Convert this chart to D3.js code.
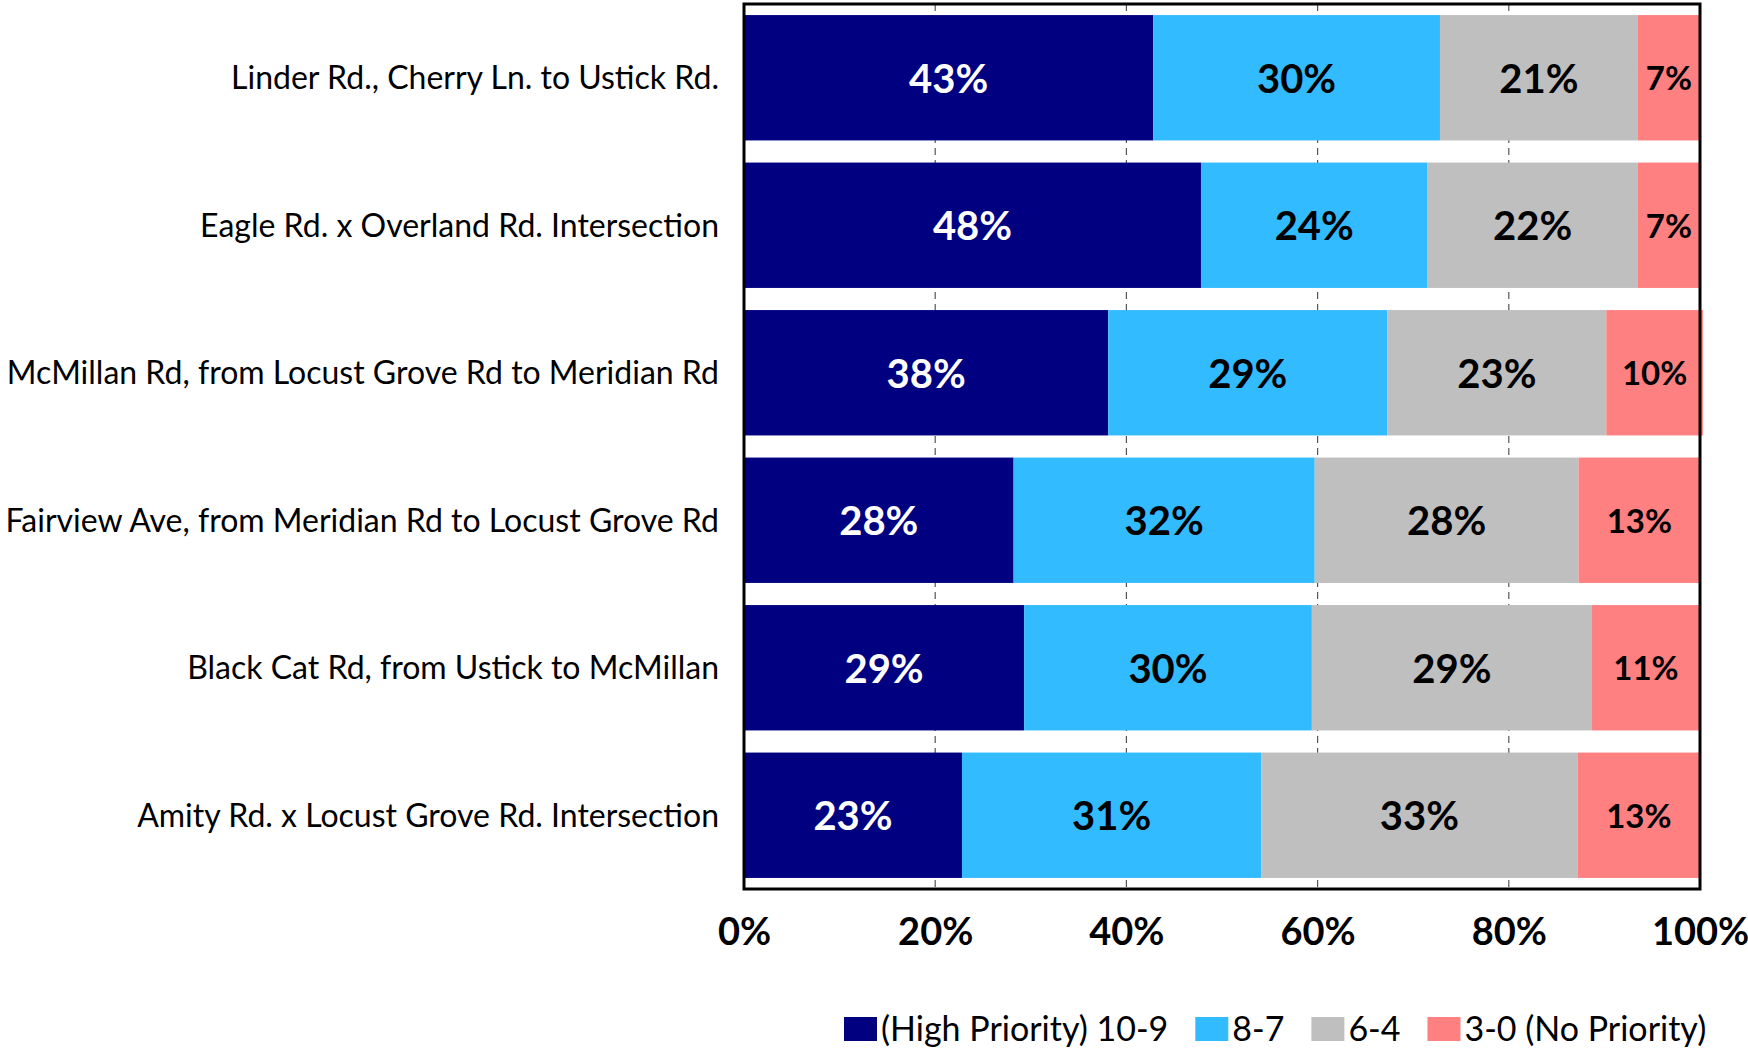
<!DOCTYPE html>
<html>
<head>
<meta charset="utf-8">
<script src="https://cdn.jsdelivr.net/npm/d3@7"></script>
<style>
  body { margin: 0; background: #fff; }
  svg { display: block; }
</style>
</head>
<body>
<div id="chart"></div>
<script>
// road segments, top to bottom
var roads = [
  "Linder Rd., Cherry Ln. to Ustick Rd.",
  "Eagle Rd. x Overland Rd. Intersection",
  "McMillan Rd, from Locust Grove Rd to Meridian Rd",
  "Fairview Ave, from Meridian Rd to Locust Grove Rd",
  "Black Cat Rd, from Ustick to McMillan",
  "Amity Rd. x Locust Grove Rd. Intersection"
];

// share of responses (%) per priority group
var high = [42.8, 47.8, 38.1, 28.2, 29.3, 22.8];
var mid  = [30.0, 23.7, 29.2, 31.5, 30.1, 31.3];
var low  = [20.7, 22.0, 22.9, 27.6, 29.3, 33.1];
var none = [6.5, 6.5, 10.1, 12.7, 11.3, 12.8];

var seriesKeys = ["high", "mid", "low", "none"];
var seriesNames = ["(High Priority) 10-9", "8-7", "6-4", "3-0 (No Priority)"];
var seriesColors = ["#000080", "#33bbff", "#bfbfbf", "#ff8080"];
var xTicks = [0, 20, 40, 60, 80, 100];

var width = 1748,
    height = 1048,
    plotLeft = 744,
    plotRight = 1700,
    plotTop = 4,
    plotBottom = 889;

var rows = roads.map(function(r, i) {
  return { road: r, high: high[i], mid: mid[i], low: low[i], none: none[i] };
});

var svg = d3.select("#chart")
  .append("svg")
    .attr("width", width)
    .attr("height", height);

var x = d3.scaleLinear()
    .domain([0, 100])
    .range([plotLeft, plotRight]);

var y = d3.scaleBand()
    .domain(roads)
    .range([plotTop, plotBottom])
    .paddingInner(0.15)
    .paddingOuter(0.075);

var color = d3.scaleOrdinal().domain(seriesKeys).range(seriesColors);

// dashed gridlines (only show in the gaps)
svg.append("g")
  .selectAll("line")
  .data(xTicks.filter(function(t) { return t > 0 && t < 100; }))
  .enter()
  .append("line")
    .attr("x1", function(d) { return x(d); })
    .attr("x2", function(d) { return x(d); })
    .attr("y1", plotTop)
    .attr("y2", plotBottom)
    .attr("stroke", "#555")
    .attr("stroke-width", 1.2)
    .attr("stroke-dasharray", "7,5");

var stacked = d3.stack().keys(seriesKeys)(rows);

var layers = svg.selectAll(".layer")
  .data(stacked)
  .enter()
  .append("g")
    .attr("class", "layer")
    .attr("fill", function(d) { return color(d.key); });

layers.selectAll("rect")
  .data(function(d) { return d; })
  .enter()
  .append("rect")
    .attr("x", function(d) { return x(d[0]); })
    .attr("y", function(d) { return y(d.data.road); })
    .attr("width", function(d) { return x(d[1]) - x(d[0]); })
    .attr("height", y.bandwidth());

// value labels
layers.selectAll("text")
  .data(function(d) { return d.map(function(v) { v.key = d.key; return v; }); })
  .enter()
  .append("text")
    .attr("x", function(d) { return (x(d[0]) + x(d[1])) / 2; })
    .attr("y", function(d) { return y(d.data.road) + y.bandwidth() / 2; })
    .attr("dy", "0.38em")
    .attr("text-anchor", "middle")
    .attr("font-family", "Lato, 'Open Sans', sans-serif")
    .attr("font-weight", "bold")
    .attr("font-size", function(d) { return d.key === "none" ? 33 : 40; })
    .attr("fill", function(d) { return d.key === "high" ? "#fff" : "#000"; })
    .text(function(d) { return Math.round(d.data[d.key]) + "%"; });

// frame
svg.append("rect")
    .attr("x", plotLeft)
    .attr("y", plotTop)
    .attr("width", plotRight - plotLeft)
    .attr("height", plotBottom - plotTop)
    .attr("fill", "none")
    .attr("stroke", "#000")
    .attr("stroke-width", 3);

// category axis
var yAxis = svg.append("g")
    .attr("transform", "translate(" + plotLeft + ",0)")
    .call(d3.axisLeft(y).tickSize(0).tickPadding(25));
yAxis.select(".domain").remove();
yAxis.selectAll("text")
    .attr("dy", "0.36em")
    .attr("font-family", "Lato, 'Open Sans', sans-serif")
    .attr("font-size", 32)
    .attr("fill", "#000");

// percent axis
var xAxis = svg.append("g")
    .attr("transform", "translate(0,931)")
    .call(d3.axisBottom(x).tickValues(xTicks).tickSize(0).tickPadding(0)
      .tickFormat(function(d) { return d + "%"; }));
xAxis.select(".domain").remove();
xAxis.selectAll("text")
    .attr("y", 0)
    .attr("dy", "0.36em")
    .attr("font-family", "Lato, 'Open Sans', sans-serif")
    .attr("font-weight", "bold")
    .attr("font-size", 38)
    .attr("fill", "#000");

// legend
var legend = svg.append("g").attr("class", "legend");
var lx = 844;
seriesKeys.forEach(function(k, i) {
  legend.append("rect")
      .attr("x", lx)
      .attr("y", 1017)
      .attr("width", 33)
      .attr("height", 24)
      .attr("fill", color(k));
  var t = legend.append("text")
      .attr("x", lx + 37)
      .attr("y", 1029)
      .attr("dy", "0.36em")
      .attr("font-family", "Lato, 'Open Sans', sans-serif")
      .attr("font-size", 34)
      .attr("fill", "#000")
      .text(seriesNames[i]);
  lx += 37 + t.node().getComputedTextLength() + 27;
});
</script>
</body>
</html>
